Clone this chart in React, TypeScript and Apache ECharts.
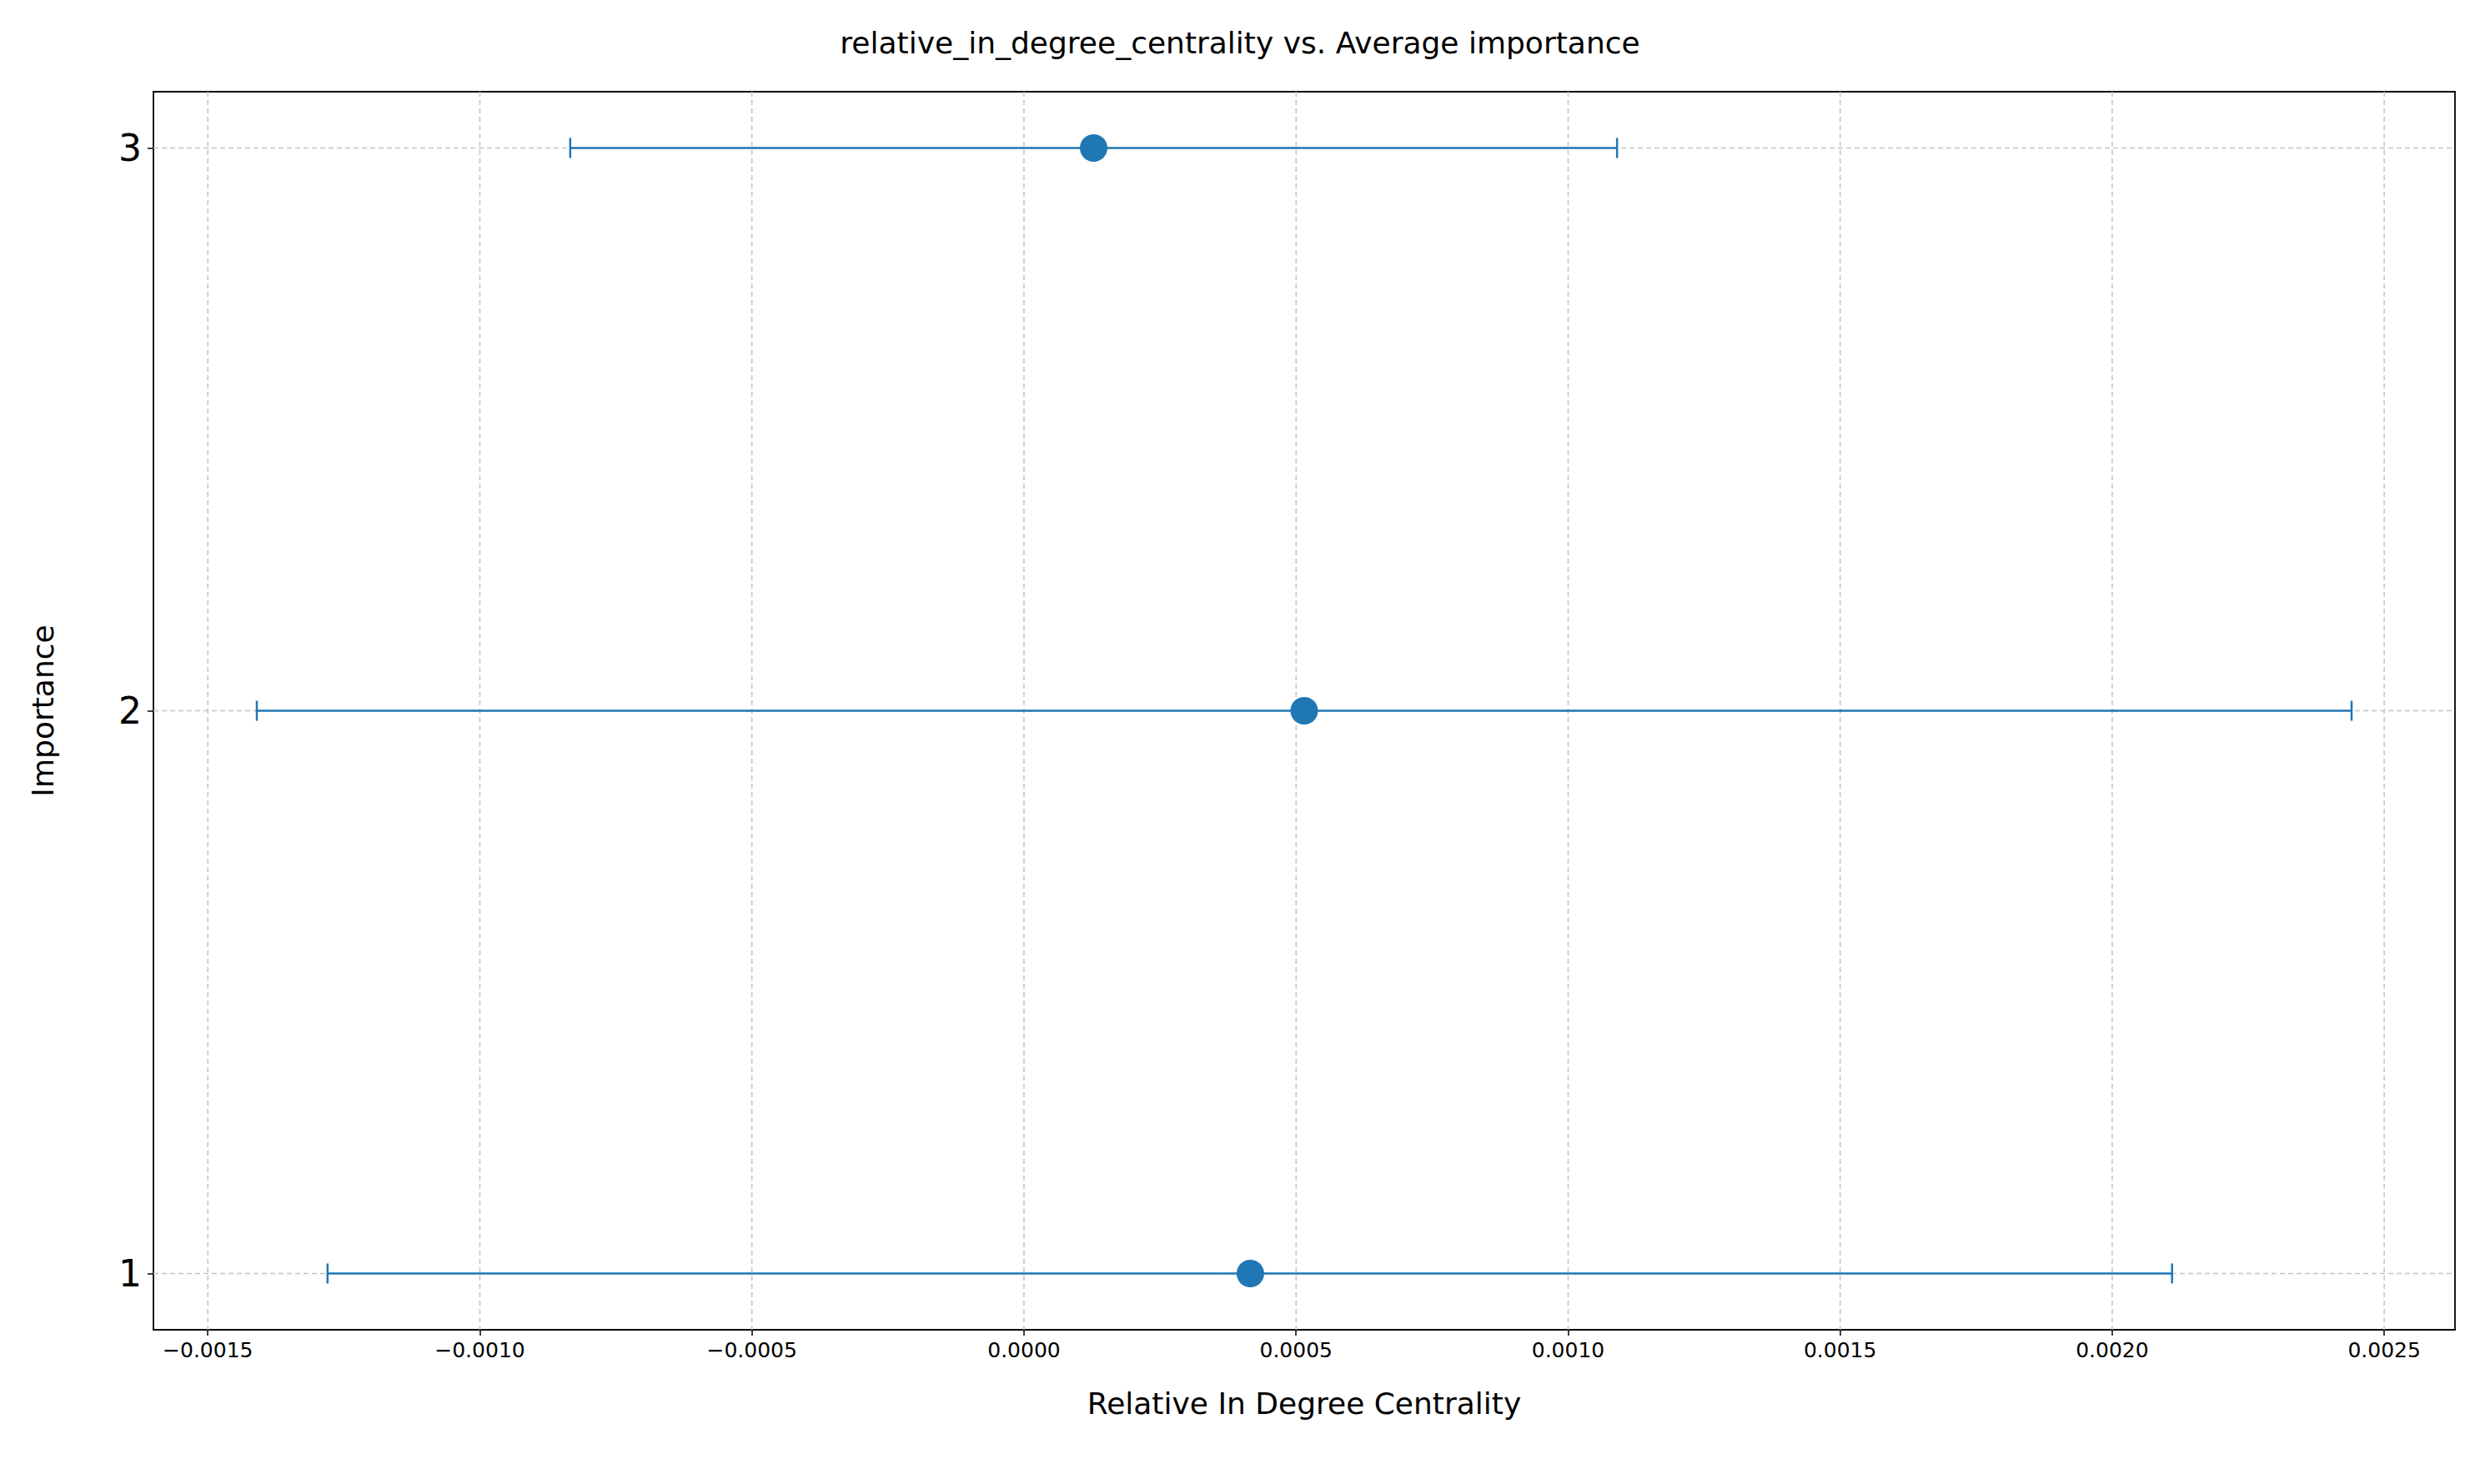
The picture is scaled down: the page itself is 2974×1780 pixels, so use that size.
import React, { useEffect, useRef } from "react";
import * as echarts from "echarts";

const importance = [1, 2, 3];
const means = [0.000416, 0.000515, 0.000128];
const lows = [-0.00128, -0.00141, -0.000834];
const highs = [0.00211, 0.00244, 0.00109];
const xTicks = [-0.0015, -0.001, -0.0005, 0, 0.0005, 0.001, 0.0015, 0.002, 0.0025];
const yTicks = [1, 2, 3];

const C = "#1f77b4";

export default function App() {
  const ref = useRef<HTMLDivElement>(null);
  useEffect(() => {
    const chart = echarts.init(ref.current!, null, { renderer: "svg" });
    const fmt = (v: number) => {
      const s = Math.abs(v).toFixed(4);
      return v < -1e-12 ? "\u2212" + s : s;
    };
    const gridStroke = { stroke: "#c4c4c4", lineWidth: 1.5, lineDash: [6, 4] };
    const frame = { show: true, onZero: false, lineStyle: { color: "#000", width: 1.8 } };
    chart.setOption({
      animation: false,
      title: {
        text: "relative_in_degree_centrality vs. Average importance",
        left: "center",
        top: 28,
        textStyle: { fontFamily: "DejaVu Sans", fontSize: 36, fontWeight: "normal", color: "#000" },
      },
      grid: { left: 184, right: 30, top: 110, bottom: 185 },
      xAxis: [
        {
          type: "value",
          min: -0.0016,
          max: 0.00263,
          name: "Relative In Degree Centrality",
          nameLocation: "middle",
          nameGap: 70,
          nameTextStyle: { fontFamily: "DejaVu Sans", fontSize: 36, color: "#000" },
          axisLine: frame,
          axisTick: { show: true, length: 7, customValues: xTicks, lineStyle: { color: "#000", width: 1.5 } },
          axisLabel: { customValues: xTicks, formatter: fmt, fontFamily: "DejaVu Sans", fontSize: 25, color: "#000", margin: 12 },
          splitLine: { show: false },
        },
        { type: "value", position: "top", min: -0.0016, max: 0.00263, axisLine: frame, axisTick: { show: false }, axisLabel: { show: false }, splitLine: { show: false } },
      ],
      yAxis: [
        {
          type: "value",
          min: 0.9,
          max: 3.1,
          name: "Importance",
          nameLocation: "middle",
          nameGap: 115,
          nameTextStyle: { fontFamily: "DejaVu Sans", fontSize: 36, color: "#000" },
          axisLine: frame,
          axisTick: { show: true, length: 7, customValues: yTicks, lineStyle: { color: "#000", width: 1.5 } },
          axisLabel: { customValues: yTicks, formatter: (v: number) => String(Math.round(v)), fontFamily: "DejaVu Sans", fontSize: 44, color: "#000", margin: 14 },
          splitLine: { show: false },
        },
        { type: "value", position: "right", min: 0.9, max: 3.1, axisLine: frame, axisTick: { show: false }, axisLabel: { show: false }, splitLine: { show: false } },
      ],
      series: [
        {
          type: "custom",
          silent: true,
          data: xTicks.map((x) => [x, 2]),
          renderItem: (params: any, api: any) => {
            const cs = params.coordSys;
            const p = api.coord([api.value(0), 2]);
            return { type: "line", shape: { x1: p[0], y1: cs.y, x2: p[0], y2: cs.y + cs.height }, style: gridStroke };
          },
          z: 1,
        },
        {
          type: "custom",
          silent: true,
          data: yTicks.map((y) => [0, y]),
          renderItem: (params: any, api: any) => {
            const cs = params.coordSys;
            const p = api.coord([0, api.value(1)]);
            return { type: "line", shape: { x1: cs.x, y1: p[1], x2: cs.x + cs.width, y2: p[1] }, style: gridStroke };
          },
          z: 1,
        },
        {
          type: "custom",
          silent: true,
          data: importance.map((y, i) => [lows[i], highs[i], y]),
          renderItem: (params: any, api: any) => {
            const a = api.coord([api.value(0), api.value(2)]);
            const b = api.coord([api.value(1), api.value(2)]);
            const h = 12;
            const st = { stroke: C, lineWidth: 2.5 };
            return {
              type: "group",
              children: [
                { type: "line", shape: { x1: a[0], y1: a[1], x2: b[0], y2: b[1] }, style: st },
                { type: "line", shape: { x1: a[0], y1: a[1] - h, x2: a[0], y2: a[1] + h }, style: st },
                { type: "line", shape: { x1: b[0], y1: b[1] - h, x2: b[0], y2: b[1] + h }, style: st },
              ],
            };
          },
          z: 3,
        },
        {
          type: "scatter",
          data: importance.map((y, i) => [means[i], y]),
          symbolSize: 33,
          itemStyle: { color: C, opacity: 1 },
          z: 4,
        },
      ],
    });
    return () => chart.dispose();
  }, []);
  return <div ref={ref} style={{ position: "fixed", left: 0, top: 0, width: 2974, height: 1780, background: "#fff" }} />;
}
